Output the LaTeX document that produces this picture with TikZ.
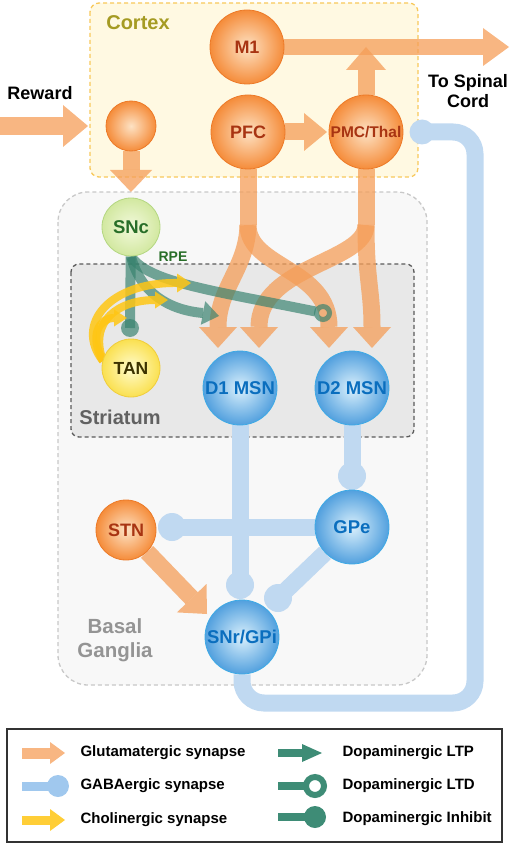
\documentclass[tikz,border=0pt]{standalone}
\usepackage{fontspec}
\setmainfont{Liberation Sans}
\usetikzlibrary{calc}
\pgfdeclarelayer{bg}
\pgfdeclarelayer{conn}
\pgfsetlayers{bg,conn,main}
\definecolor{glu}{RGB}{245,158,88}
\definecolor{gaba}{RGB}{192,217,241}
\definecolor{gabaL}{RGB}{160,200,238}
\definecolor{da}{RGB}{55,130,110}
\definecolor{daL}{RGB}{62,140,118}
\definecolor{ach}{RGB}{255,198,20}
\definecolor{orI}{RGB}{253,226,196}
\definecolor{orO}{RGB}{245,140,58}
\definecolor{orB}{RGB}{236,122,40}
\definecolor{orT}{RGB}{168,52,18}
\definecolor{blI}{RGB}{218,240,252}
\definecolor{blO}{RGB}{82,160,222}
\definecolor{blB}{RGB}{62,170,230}
\definecolor{blT}{RGB}{10,110,190}
\definecolor{gnI}{RGB}{242,249,220}
\definecolor{gnO}{RGB}{210,232,160}
\definecolor{gnB}{RGB}{180,215,130}
\definecolor{gnT}{RGB}{40,110,40}
\definecolor{yeI}{RGB}{255,252,205}
\definecolor{yeO}{RGB}{250,224,80}
\definecolor{yeB}{RGB}{240,205,60}
\definecolor{yeT}{RGB}{60,50,0}
\definecolor{ctxF}{RGB}{255,249,226}
\definecolor{ctxB}{RGB}{248,200,90}
\definecolor{ctxT}{RGB}{165,155,35}
\definecolor{bgF}{RGB}{248,248,248}
\definecolor{bgB}{RGB}{200,200,200}
\definecolor{stF}{RGB}{232,232,232}
\definecolor{stB}{RGB}{90,90,90}
\newcommand\bfz[1]{\fontsize{#1}{#1}\selectfont\bfseries}
\begin{document}
\begin{tikzpicture}[x=1pt,y=-1pt,
  gluline/.style={line width=17pt, draw=glu, draw opacity=0.75, line cap=butt},
  gluhead/.style={fill=glu, fill opacity=0.75},
  gabaline/.style={line width=17pt, draw=gaba},
  gababall/.style={fill=gaba},
  daline/.style={line width=10pt, draw=da, draw opacity=0.68},
  dahead/.style={fill=da, fill opacity=0.68},
  achline/.style={line width=8pt, draw=ach, draw opacity=0.85},
  achhead/.style={fill=ach, fill opacity=0.85},
  orn/.style={circle, inner sep=0pt, draw=orB, line width=0.8pt, inner color=orI, outer color=orO, text=orT, font=\bfz{18}},
  bln/.style={circle, inner sep=0pt, draw=blB, line width=0.8pt, inner color=blI, outer color=blO, text=blT, font=\bfz{18.5}},
  gnn/.style={circle, inner sep=0pt, draw=gnB, line width=0.8pt, inner color=gnI, outer color=gnO, text=gnT, font=\bfz{18.5}},
  yen/.style={circle, inner sep=0pt, draw=yeB, line width=0.8pt, inner color=yeI, outer color=yeO, text=yeT, font=\bfz{17.5}},
  legtext/.style={anchor=west, font=\bfz{15}, text=black}
]
\useasboundingbox (0,0) rectangle (510,845);
% ---------- region boxes
\begin{pgfonlayer}{bg}
\draw[fill=ctxF, draw=ctxB, line width=1.3pt, dash pattern=on 4pt off 3pt, rounded corners=9pt] (90,3) rectangle (418,177);
\draw[fill=bgF, draw=bgB, line width=1.3pt, dash pattern=on 4pt off 3pt, rounded corners=30pt] (58,192) rectangle (427,685);
\draw[fill=stF, draw=stB, line width=1.3pt, dash pattern=on 4pt off 3pt, rounded corners=8pt] (71,264) rectangle (414,437);
\end{pgfonlayer}

% ---------- nodes
\node[orn, minimum size=74pt] (M1) at (247,47) {M1};
\node[orn, minimum size=74pt] (PFC) at (248,132) {PFC};
\node[orn, minimum size=74pt, font=\bfz{15.5}] (PMC) at (366,132) {PMC/Thal};
\node[orn, minimum size=50pt] (rew) at (131,126) {};
\node[gnn, minimum size=58pt] (SNc) at (131,227) {SNc};
\node[yen, minimum size=58pt] (TAN) at (131,368) {TAN};
\node[bln, minimum size=74pt] (D1) at (240,388) {D1 MSN};
\node[bln, minimum size=74pt] (D2) at (352,388) {D2 MSN};
\node[bln, minimum size=74pt] (GPe) at (352,527) {GPe};
\node[orn, minimum size=60pt] (STN) at (126,530) {STN};
\node[bln, minimum size=74pt] (SNr) at (242,637) {SNr/GPi};

% ---------- connector end points
\coordinate (rewin) at (0,126);
\coordinate (spinal) at (509,47);
\coordinate (pfcsplit) at (248,225);
\coordinate (pmcsplit) at (366,225);
\coordinate (gb1) at (240,585);
\coordinate (gb2) at (352,476);
\coordinate (gb3) at (172,527);
\coordinate (gb4) at (278,598);
\coordinate (gb5) at (422,132);
\coordinate (ltd) at (323,313);
\coordinate (inh) at (130,328);
\coordinate (achsrc) at (103,361);

\begin{pgfonlayer}{conn}
% ---------- GABAergic (blue)
\draw[gabaline] (D1) -- (gb1);
\fill[gababall] (gb1) circle (14);
\draw[gabaline] (D2) -- (gb2);
\fill[gababall] (gb2) circle (14);
\draw[gabaline] (GPe) -- (gb3);
\fill[gababall] (gb3) circle (14);
\draw[gabaline] (GPe) -- (gb4);
\fill[gababall] (gb4) circle (14);
\draw[gabaline, rounded corners=22pt] (SNr.south) -- (242,703) -- (475,703) -- (475,132) -- (gb5);
\fill[gababall] (gb5) circle (12.5);

% ---------- Glutamatergic (orange)
\draw[gluline, line width=18pt] (rewin) -- (63,126);
\fill[gluhead] (63,105) -- (88,126) -- (63,147) -- cycle;
\draw[gluline] (rew.south) -- (131,170);
\fill[gluhead] (110,170) -- (131,192) -- (152,170) -- cycle;
\draw[gluline] (PFC.east) -- (304,132);
\fill[gluhead] (304,113) -- (327,132) -- (304,151) -- cycle;
\draw[gluline, line width=16pt] (M1.east) -- (483,47);
\fill[gluhead] (483,28) -- (spinal) -- (483,66) -- cycle;
\draw[gluline] (PMC.north) -- (366,70);
\fill[gluhead] (346,70) -- (366,47) -- (386,70) -- cycle;
\draw[gluline] (PFC.south) -- (pfcsplit);
\draw[gluline] (PMC.south) -- (pmcsplit);
\draw[gluline] (pfcsplit) .. controls (247,268) and (218,288) .. (218,327);
\fill[gluhead] (199,327) -- (218,348) -- (237,327) -- cycle;
\draw[gluline] (pfcsplit) .. controls (248,268) and (329,268) .. (329,327);
\fill[gluhead] (310,327) -- (329,348) -- (348,327) -- cycle;
\draw[gluline] (pmcsplit) .. controls (366,262) and (259,266) .. (259,327);
\fill[gluhead] (240,327) -- (259,348) -- (278,327) -- cycle;
\draw[gluline] (pmcsplit) .. controls (366,280) and (372,290) .. (372,327);
\fill[gluhead] (353,327) -- (372,348) -- (391,327) -- cycle;
\draw[gluline] (STN) -- (191.7,598.2);
\fill[gluhead] (176.9,612.4) -- (207,614) -- (206.5,584.0) -- cycle;

% ---------- Dopaminergic (green)
\draw[daline] (SNc) -- (inh);
\fill[dahead] (inh) circle (9);
\draw[daline] (SNc.south) .. controls (140,292) and (168,310) .. (203,313);
\fill[dahead] (200.8,324.8) -- (219,316) -- (205.2,301.2) -- cycle;
\draw[daline] (SNc.south) .. controls (148,282) and (210,290) .. (315.5,311.5);
\draw[draw=da, draw opacity=0.68, line width=5pt] (ltd) circle (6.5);

% ---------- Cholinergic (yellow)
\draw[achline] (achsrc) .. controls (74,324) and (110,282) .. (177,283);
\fill[achhead] (177,273.5) -- (191,283) -- (177,292.5) -- cycle;
\draw[achline] (achsrc) .. controls (88,320) and (120,300) .. (155,300);
\fill[achhead] (155,291.5) -- (168,300) -- (155,308.5) -- cycle;
\draw[achline] (achsrc) .. controls (89,336) and (99,318) .. (114,318);
\fill[achhead] (114,309.5) -- (127,318) -- (114,326.5) -- cycle;
\end{pgfonlayer}

% ---------- labels
\node[font=\bfz{18}, text=black] (lReward) at (40,93) {Reward};
\node[font=\bfz{20}, text=ctxT] (lCortex) at (138,23) {Cortex};
\node[font=\bfz{18}, text=black, align=center] (lSpinal) at (468,91) {To Spinal\\[2pt]Cord};
\node[font=\bfz{20}, text=black!62] (lStriatum) at (120,417) {Striatum};
\node[font=\bfz{20.5}, text=black!42, align=center] (lBG) at (115,640) {Basal\\[3pt]Ganglia};
\node[font=\bfz{14}, text=gnT] (lRPE) at (173,257) {RPE};

% ---------- legend
\draw[line width=1.3pt, draw=black!80] (7,729) rectangle (502,842);
\draw[gluline, line width=11pt] (22,753) -- (50,753);
\fill[gluhead] (50,742) -- (65,753) -- (50,764) -- cycle;
\draw[line width=9pt, draw=gabaL] (22,786) -- (56,786);
\fill[gabaL] (58,786) circle (11);
\draw[achline, line width=9pt] (22,820) -- (50,820);
\fill[achhead] (50,809) -- (65,820) -- (50,831) -- cycle;
\draw[line width=8pt, draw=daL] (278,753) -- (303,753);
\fill[daL] (302,744) -- (322,753) -- (302,762) -- cycle;
\draw[line width=8pt, draw=daL] (278,786) -- (306,786);
\draw[line width=6pt, draw=daL, fill=white] (315,786) circle (9);
\draw[line width=8pt, draw=daL] (278,817) -- (305,817);
\fill[daL] (315,817) circle (11);
\node[legtext] (lg1) at (77,753) {Glutamatergic synapse};
\node[legtext] (lg2) at (77,786) {GABAergic synapse};
\node[legtext] (lg3) at (77,820) {Cholinergic synapse};
\node[legtext] (lg4) at (339,753) {Dopaminergic LTP};
\node[legtext] (lg5) at (339,786) {Dopaminergic LTD};
\node[legtext] (lg6) at (339,819) {Dopaminergic Inhibit};
\end{tikzpicture}
\end{document}
